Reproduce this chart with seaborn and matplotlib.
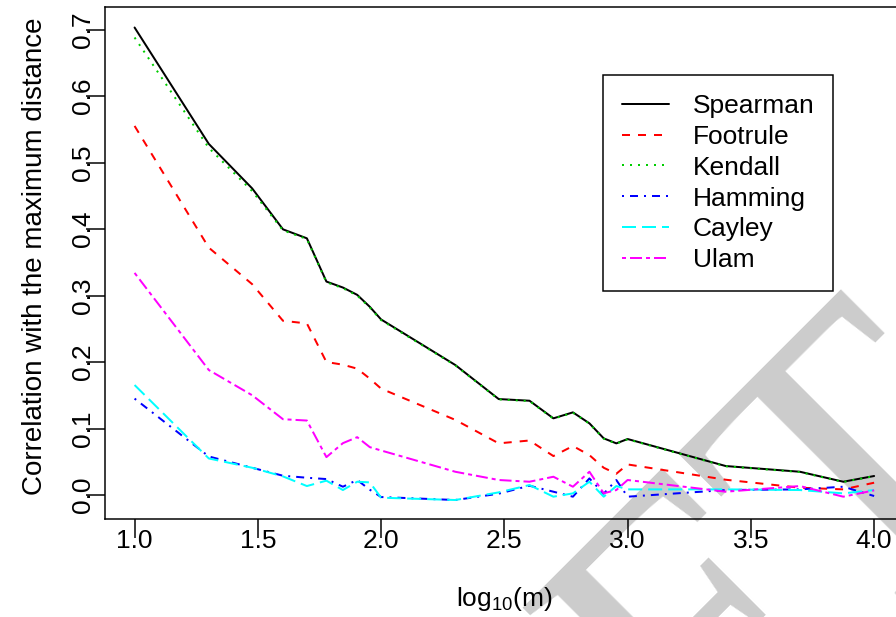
import numpy as np
import pandas as pd
import matplotlib
matplotlib.use("Agg")
import matplotlib.pyplot as plt
from matplotlib.lines import Line2D
import seaborn as sns

# Sample sizes m and the correlation of each distance with the maximum distance
m_values = [10, 20, 30, 40, 50, 60, 70, 80, 90, 100,
            200, 300, 400, 500, 600, 700, 800, 900, 1000,
            2500, 5000, 7500, 10000]
spearman = [0.703, 0.528, 0.461, 0.3995, 0.386, 0.321, 0.312, 0.301, 0.283, 0.264,
            0.1955, 0.1443, 0.1418, 0.1153, 0.1243, 0.1078, 0.0852, 0.0777, 0.0842,
            0.0436, 0.035, 0.020, 0.0286]
footrule = [0.555, 0.372, 0.317, 0.262, 0.258, 0.200, 0.196, 0.190, 0.175, 0.160,
            0.113, 0.0777, 0.082, 0.0586, 0.0737, 0.060, 0.041, 0.032, 0.046,
            0.023, 0.011, 0.0085, 0.0185]
kendall = [0.688, 0.522, 0.457, 0.398, 0.385, 0.320, 0.311, 0.300, 0.282, 0.263,
           0.195, 0.1438, 0.1413, 0.1148, 0.1238, 0.1073, 0.0848, 0.0773, 0.0838,
           0.0432, 0.0346, 0.0197, 0.0283]
hamming = [0.145, 0.058, 0.041, 0.029, 0.026, 0.024, 0.0125, 0.0226, 0.008, -0.003,
           -0.0075, 0.002, 0.014, 0.005, -0.0025, 0.025, 0.002, 0.0226, -0.0025,
           0.0075, 0.0085, 0.0125, -0.0015]
cayley = [0.1654, 0.055, 0.041, 0.028, 0.0135, 0.0216, 0.0075, 0.020, 0.019, -0.004,
          -0.0075, 0.004, 0.015, -0.0025, 0.0025, 0.020, -0.0025, 0.0135, 0.0085,
          0.0085, 0.0075, 0.0025, 0.0075]
ulam = [0.334, 0.188, 0.150, 0.114, 0.112, 0.057, 0.078, 0.087, 0.072, 0.067,
        0.035, 0.0226, 0.020, 0.0275, 0.0125, 0.035, 0.0026, 0.0075, 0.0226,
        0.005, 0.0135, -0.0025, 0.007]

methods = ["Spearman", "Footrule", "Kendall", "Hamming", "Cayley", "Ulam"]
colors = ["#000000", "#FF0000", "#00CD00", "#0000FF", "#00FFFF", "#FF00FF"]
dash_styles = ["", (4, 4), (1, 3), (1, 3, 4, 3), (7, 3), (2, 2, 6, 2)]
x_ticks = [1.0, 1.5, 2.0, 2.5, 3.0, 3.5, 4.0]
y_ticks = [0.0, 0.1, 0.2, 0.3, 0.4, 0.5, 0.6, 0.7]

series = [spearman, footrule, kendall, hamming, cayley, ulam]
log_m = np.log10(m_values)
df = pd.concat(
    [pd.DataFrame({"log_m": log_m, "corr": vals, "method": name})
     for name, vals in zip(methods, series)],
    ignore_index=True,
)

TICK_LEN, TICK_W = 13.7, 1.08
sns.set_style("ticks", rc={
    "axes.edgecolor": "black", "axes.labelcolor": "black", "text.color": "black",
    "xtick.color": "black", "ytick.color": "black",
    "xtick.bottom": True, "ytick.left": True,
    "xtick.major.size": TICK_LEN, "ytick.major.size": TICK_LEN,
    "xtick.major.width": TICK_W, "ytick.major.width": TICK_W,
    "xtick.major.pad": 9.9 + TICK_LEN, "ytick.major.pad": 1.5 + TICK_LEN,
    "xtick.direction": "out", "ytick.direction": "out",
})
plt.rcParams["font.family"] = ["Liberation Sans", "DejaVu Sans"]
plt.rcParams["mathtext.fontset"] = "custom"
plt.rcParams["mathtext.rm"] = "Liberation Sans"

W, H = 896, 617
fig = plt.figure(figsize=(W / 100, H / 100), dpi=100, facecolor="white")

left, right, top, bottom = 105, 903.7, 7.3, 519.3
ax = fig.add_axes([left / W, (H - bottom) / H, (right - left) / W, (bottom - top) / H])
ax.set_facecolor("none")

# light grey watermark lettering behind the curves
ax.text(99 / W, (H - 1393) / H, "DRAFT", transform=fig.transFigure, clip_on=False,
        fontsize=289, family="Liberation Serif", color="#cccccc",
        rotation=45, rotation_mode="anchor", ha="left", va="baseline", zorder=0.1)

sns.lineplot(data=df, x="log_m", y="corr", hue="method", style="method",
             palette=dict(zip(methods, colors)),
             dashes=dict(zip(methods, dash_styles)),
             hue_order=methods, style_order=methods,
             sort=False, estimator=None, linewidth=1.44, legend=False, ax=ax)

ax.set_xlim(0.88, 4.12)
ax.set_ylim(-0.0365, 0.7334)
ax.set_xticks(x_ticks)
ax.set_xticklabels([f"{t:.1f}" for t in x_ticks], fontsize=19)
ax.set_yticks(y_ticks)
ax.set_yticklabels([f"{t:.1f}" for t in y_ticks], fontsize=19, rotation=90, va="center")

for sp in ax.spines.values():
    sp.set_visible(True)
    sp.set_color("black")
    sp.set_linewidth(TICK_W)

ax.set_xlabel(r"$\mathregular{log_{10}(m)}$", fontsize=19, va="baseline")
ax.xaxis.set_label_coords(504 / W, (H - 606) / H, transform=fig.transFigure)
ax.set_ylabel("Correlation with the maximum distance", fontsize=20, va="baseline")
ax.yaxis.set_label_coords(41.7 / W, (H - 256) / H, transform=fig.transFigure)

handles = [Line2D([0], [0], color=c, lw=1.44,
                  linestyle="-" if d == "" else (0, d))
           for c, d in zip(colors, dash_styles)]
leg = ax.legend(handles, methods, loc="upper left",
                bbox_to_anchor=(602.7 / W, (H - 75) / H), bbox_transform=fig.transFigure,
                borderaxespad=0, fontsize=19, handlelength=1.81, handletextpad=0.88,
                borderpad=0.72, labelspacing=0.26, fancybox=False, framealpha=1,
                edgecolor="black", facecolor="white")
leg.get_frame().set_linewidth(TICK_W)

# make sure every major tick mark is drawn as an outward black stroke
for axis in (ax.xaxis, ax.yaxis):
    for tick in axis.get_major_ticks():
        tick.tick1line.set_visible(True)
        tick.tick1line.set_markersize(TICK_LEN)
        tick.tick1line.set_markeredgewidth(TICK_W)
        tick.tick1line.set_markeredgecolor("black")
        tick.tick1line.set_zorder(3)

fig.savefig("out.png", dpi=100, facecolor="white")
